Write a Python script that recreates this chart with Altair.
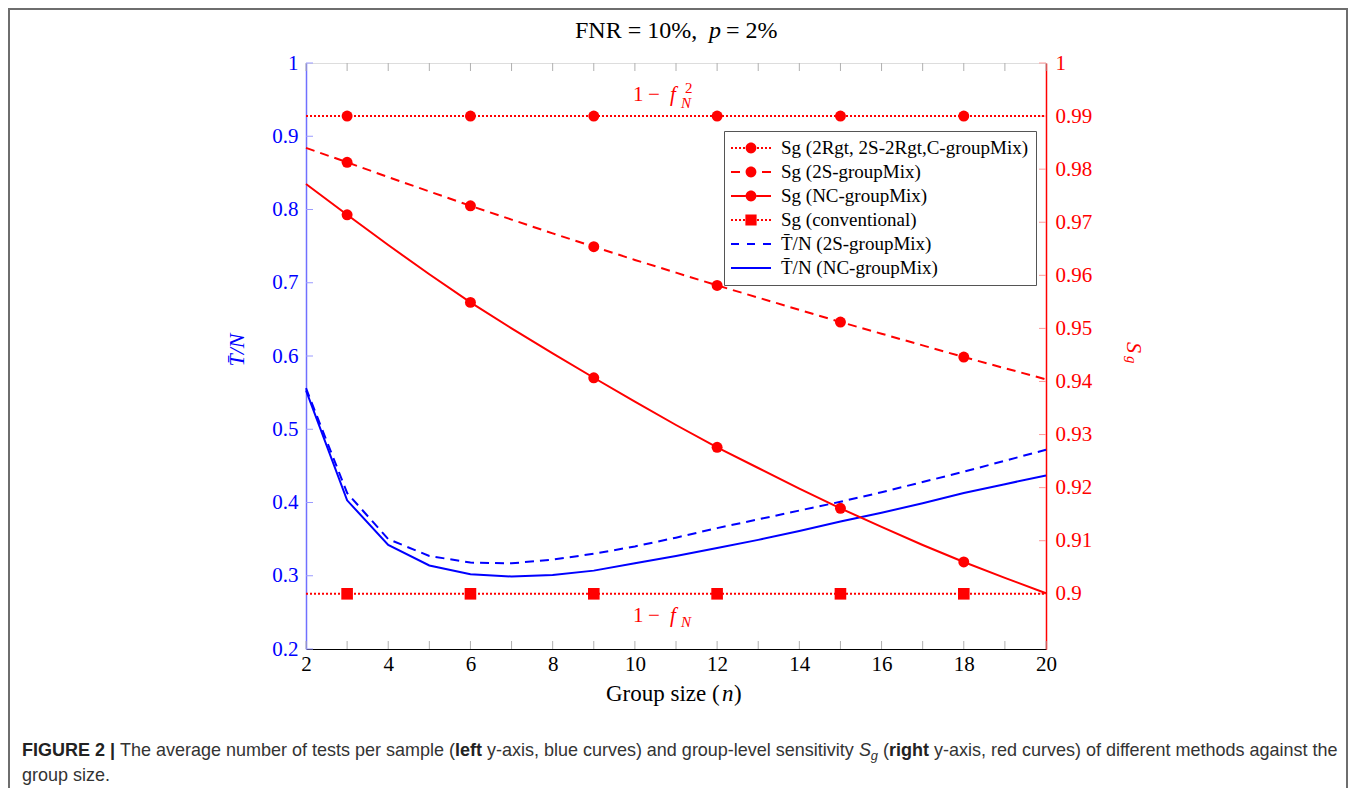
import altair as alt
import pandas as pd

# ---------------- data ----------------
group_size = list(range(2, 21))
tn_nc = [0.553, 0.403, 0.342, 0.314, 0.302, 0.299, 0.301, 0.307, 0.317, 0.327,
         0.338, 0.349, 0.361, 0.374, 0.386, 0.399, 0.413, 0.425, 0.437]
tn_2s = [0.556, 0.413, 0.350, 0.327, 0.318, 0.317, 0.322, 0.330, 0.340, 0.352,
         0.365, 0.377, 0.389, 0.401, 0.414, 0.428, 0.442, 0.457, 0.472]
sg_nc = [0.9772, 0.9714, 0.9657, 0.9602, 0.9549, 0.9500, 0.9453, 0.9407, 0.9362, 0.9318,
         0.9276, 0.9237, 0.9198, 0.9161, 0.9126, 0.9092, 0.9060, 0.9030, 0.9001]
sg_2s = [0.9840, 0.9813, 0.9785, 0.9758, 0.9731, 0.9705, 0.9679, 0.9654, 0.9629, 0.9605,
         0.9581, 0.9558, 0.9535, 0.9512, 0.9490, 0.9468, 0.9446, 0.9425, 0.9404]
sg_2rgt = [0.99] * len(group_size)
sg_conv = [0.90] * len(group_size)
marker_n = [3, 6, 9, 12, 15, 18]

x_label_values = [2, 4, 6, 8, 10, 12, 14, 16, 18, 20]
x_minor_ticks = list(range(2, 21))
left_tick_values = [0.2, 0.3, 0.4, 0.5, 0.6, 0.7, 0.8, 0.9, 1.0]
right_tick_values = [0.9, 0.91, 0.92, 0.93, 0.94, 0.95, 0.96, 0.97, 0.98, 0.99, 1.0]

series_keys = ["sg_2rgt", "sg_2s", "sg_nc", "sg_conv", "tn_2s", "tn_nc"]
series_labels = ["Sg (2Rgt, 2S-2Rgt,C-groupMix)", "Sg (2S-groupMix)", "Sg (NC-groupMix)",
                 "Sg (conventional)", "T\u0304/N (2S-groupMix)", "T\u0304/N (NC-groupMix)"]
series_values = [sg_2rgt, sg_2s, sg_nc, sg_conv, tn_2s, tn_nc]

rows = []
for key, vals in zip(series_keys, series_values):
    for n, v in zip(group_size, vals):
        rows.append({"n": n, "value": v, "series": key})
df = pd.DataFrame(rows)

# ---------------- geometry / style ----------------
W, H = 740, 586
PX0, PY0 = 306, 63          # page position of the plot area
RED = "#ff0000"
BLUE = "#0000ff"
SERIF = "Liberation Serif"
SANS = "Liberation Sans"

x_axis = alt.Axis(values=x_label_values, format="d", ticks=False, grid=False, title=None,
                  domainColor="#000000", domainWidth=1.2, labelFont=SERIF, labelFontSize=21,
                  labelColor="#000000", labelPadding=4, labelFlush=False, labelOverlap=False)
yl_axis = alt.Axis(values=left_tick_values, format=".1~f", ticks=False, grid=False, title=None,
                   orient="left", domainColor="#7070ff", domainWidth=1.5, labelFont=SERIF,
                   labelFontSize=21, labelColor=BLUE, labelPadding=8, labelOverlap=False,
                   labelFlush=False)
yr_axis = alt.Axis(values=right_tick_values, format=".2~f", ticks=False, grid=False, title=None,
                   orient="right", domainColor=RED, domainWidth=1.5, labelFont=SERIF,
                   labelFontSize=21, labelColor=RED, labelPadding=9, labelOverlap=False,
                   labelFlush=False)

xenc = alt.X("n:Q", scale=alt.Scale(domain=[2, 20], nice=False, zero=False), axis=x_axis)
yl = alt.Y("value:Q", scale=alt.Scale(domain=[0.2, 1.0], nice=False, zero=False), axis=yl_axis)
yr = alt.Y("value:Q", scale=alt.Scale(domain=[0.8896, 1.0], nice=False, zero=False), axis=yr_axis)

base = alt.Chart(df)


def line_layer(key, color, yenc, dash=None):
    kw = dict(color=color, strokeWidth=2)
    if dash is not None:
        kw["strokeDash"] = dash
    return base.transform_filter(alt.datum.series == key).mark_line(**kw).encode(x=xenc, y=yenc)


def marker_layer(key, shape, size):
    return (base.transform_filter(alt.datum.series == key)
            .transform_filter(alt.FieldOneOfPredicate(field="n", oneOf=marker_n))
            .mark_point(shape=shape, filled=True, size=size, color=RED, opacity=1, strokeWidth=0)
            .encode(x=xenc, y=yr))


def ptext(txt, px, py, size, weight="normal", style="normal", color="#333333",
          font=SANS, angle=0, align="left", baseline="alphabetic"):
    kw = dict(text=txt, font=font, fontSize=size, fontWeight=weight, fontStyle=style,
              color=color, align=align, baseline=baseline)
    if angle:
        kw["angle"] = angle
    return alt.Chart(alt.Data(values=[{}])).mark_text(**kw).encode(
        x=alt.value(px - PX0), y=alt.value(py - PY0))


def dtext(txt, n, v, size, dx, dy, style="normal"):
    return alt.Chart(alt.Data(values=[{"n": n, "value": v}])).mark_text(
        text=txt, font=SERIF, fontSize=size, fontStyle=style, color=RED,
        align="left", baseline="alphabetic", dx=dx, dy=dy).encode(x=xenc, y=yr)


# inward ticks
xt = pd.DataFrame({"n": x_minor_ticks})
bottom_ticks = alt.Chart(xt).mark_rule(color="#b0b0b0", strokeWidth=1).encode(
    x=xenc, y=alt.value(H - 8), y2=alt.value(H))
top_ticks = alt.Chart(xt).mark_rule(color="#b0b0b0", strokeWidth=1).encode(
    x=xenc, y=alt.value(0), y2=alt.value(8))
left_ticks = alt.Chart(pd.DataFrame({"value": left_tick_values})).mark_rule(
    color="#9a9aff", strokeWidth=1).encode(y=yl, x=alt.value(0), x2=alt.value(7))
right_ticks = alt.Chart(pd.DataFrame({"value": right_tick_values})).mark_rule(
    color="#ff9a9a", strokeWidth=1).encode(y=yr, x=alt.value(W - 7), x2=alt.value(W))

left_group = alt.layer(
    bottom_ticks, top_ticks, left_ticks,
    line_layer("tn_2s", BLUE, yl, dash=[9, 6]),
    line_layer("tn_nc", BLUE, yl),
)

# legend glyphs (custom symbol paths, 1 unit = 10 px, glyph spans x in [-2, 2])
h = 0.1


def bar(x0, x1, hh=h):
    return f"M{x0},{-hh}H{x1}V{hh}H{x0}Z"


def circ(r=0.54):
    return f"M{-r},0A{r},{r} 0 1,1 {r},0A{r},{r} 0 1,1 {-r},0Z"


def sq(s=0.56):
    return f"M{-s},{-s}H{s}V{s}H{-s}Z"


dots = "".join(bar(x, round(x + 0.2, 2)) for x in [-2.0, -1.6, -1.2, -0.8, 0.6, 1.0, 1.4, 1.8])
glyphs = [
    dots + circ(),
    bar(-2.0, -1.1) + bar(1.1, 2.0) + circ(),
    bar(-2.0, -0.54) + bar(0.54, 2.0) + circ(),
    dots + sq(),
    bar(-2.0, -1.2) + bar(-0.4, 0.4) + bar(1.2, 2.0),
    bar(-2.0, 2.0),
]
legend_colors = [RED, RED, RED, RED, BLUE, BLUE]

leg = alt.Legend(title=None, orient="none", legendX=418, legendY=68, direction="vertical",
                 symbolSize=400, symbolStrokeWidth=0, symbolOpacity=1, symbolOffset=10,
                 labelFont=SERIF, labelFontSize=19, labelColor="#000000", labelOffset=20,
                 rowPadding=4, padding=7, strokeColor="#555555", fillColor="#ffffff",
                 labelLimit=500)

legend_layer = (alt.Chart(pd.DataFrame({"n": [2], "value": [0.95], "label": [series_labels[0]]}))
                .transform_filter("false")
                .mark_point(filled=True, opacity=1, size=400)
                .encode(x=xenc, y=yr,
                        color=alt.Color("label:N", scale=alt.Scale(domain=series_labels, range=legend_colors), legend=leg),
                        shape=alt.Shape("label:N", scale=alt.Scale(domain=series_labels, range=glyphs), legend=leg)))

# annotation positions (anchor at n = 11)
up_v, lo_v = 0.99284, 0.89473
ann = [
    dtext("1", 11, up_v, 21, -43, 0), dtext("\u2212", 11, up_v, 21, -28, 0),
    dtext("f", 11, up_v, 21, -6, 0, "italic"), dtext("2", 11, up_v, 15, 9, -8),
    dtext("N", 11, up_v, 15, 5, 7, "italic"),
    dtext("1", 11, lo_v, 21, -43, 0), dtext("\u2212", 11, lo_v, 21, -28, 0),
    dtext("f", 11, lo_v, 21, -6, 0, "italic"), dtext("N", 11, lo_v, 15, 5, 5, "italic"),
]

right_group = alt.layer(
    right_ticks,
    line_layer("sg_2rgt", RED, yr, dash=[2, 2]),
    line_layer("sg_conv", RED, yr, dash=[2, 2]),
    line_layer("sg_2s", RED, yr, dash=[9, 6]),
    line_layer("sg_nc", RED, yr),
    marker_layer("sg_2rgt", "circle", 120),
    marker_layer("sg_2s", "circle", 120),
    marker_layer("sg_nc", "circle", 120),
    marker_layer("sg_conv", "square", 135),
    legend_layer,
    *ann,
)

# ---------------- titles & caption ----------------
frame = alt.Chart(alt.Data(values=[{}])).mark_rect(
    fill=None, fillOpacity=0, stroke="#6e6e6e", strokeWidth=2).encode(
    x=alt.value(9 - PX0), x2=alt.value(1347 - PX0), y=alt.value(9 - PY0), y2=alt.value(900 - PY0))

titles = [
    ptext("FNR = 10%,", 575, 38, 24, color="#000000", font=SERIF),
    ptext("p", 709, 38, 24, style="italic", color="#000000", font=SERIF),
    ptext("= 2%", 726, 38, 24, color="#000000", font=SERIF),
    ptext("Group size (", 606, 701, 23, color="#000000", font=SERIF),
    ptext("n", 722, 701, 23, style="italic", color="#000000", font=SERIF),
    ptext(")", 734, 701, 23, color="#000000", font=SERIF),
    ptext("T\u0304/N", 244, 350, 22, style="italic", color=BLUE, font=SERIF, angle=270,
          align="center"),
    ptext("S", 1127, 342, 22, style="italic", color=RED, font=SERIF, angle=90),
    ptext("g", 1127, 356, 15, style="italic", color=RED, font=SERIF, angle=90),
]

# caption: compute left edges from Arial-compatible widths
REG = {" ": 278, "(": 333, ")": 333, ",": 278, "-": 333, ".": 278, "|": 260, "2": 556,
       "a": 556, "b": 556, "c": 500, "d": 556, "e": 556, "f": 278, "g": 556, "h": 556,
       "i": 222, "j": 222, "k": 500, "l": 222, "m": 833, "n": 556, "o": 556, "p": 556,
       "q": 556, "r": 333, "s": 500, "t": 278, "u": 556, "v": 500, "w": 722, "x": 500,
       "y": 500, "z": 500, "S": 667, "T": 611}
BOLD = {" ": 278, "|": 280, "2": 556, "F": 611, "I": 278, "G": 778, "U": 722, "R": 722,
        "E": 667, "l": 278, "e": 556, "f": 333, "t": 333, "r": 389, "i": 278, "g": 611,
        "h": 611}

cap1 = [("FIGURE 2 | ", "bold", 1.0, 0),
        ("The average number of tests per sample (", "normal", 1.0, 0),
        ("left", "bold", 1.0, 0),
        (" y-axis, blue curves) and group-level sensitivity ", "normal", 1.0, 0),
        ("S", "italic", 1.0, 0),
        ("g", "italic", 0.72, 4),
        (" (", "normal", 1.0, 0),
        ("right", "bold", 1.0, 0),
        (" y-axis, red curves) of different methods against the", "normal", 1.0, 0)]


def em(s, weight):
    table = BOLD if weight == "bold" else REG
    return sum(table.get(c, 556) for c in s) / 1000.0


total_em = sum(em(s, w) * sc for s, w, sc, _ in cap1)
cap_fs = (1338 - 22) / total_em
caption = []
xpos = 22.0
for s, w, sc, dy in cap1:
    txt = s.strip()
    lead = len(s) - len(s.lstrip())
    x0 = xpos + em(s[:lead], w) * cap_fs * sc
    weight = "bold" if w == "bold" else "normal"
    style = "italic" if w == "italic" else "normal"
    caption.append(ptext(txt, x0, 756 + dy, round(cap_fs * sc, 2), weight=weight, style=style,
                         color="#333333" if w != "bold" else "#222222"))
    xpos += em(s, w) * cap_fs * sc
caption.append(ptext("group size.", 22, 781, round(cap_fs, 2)))

chart = alt.layer(
    left_group, right_group, frame, *titles, *caption
).resolve_scale(y="independent").properties(
    width=W, height=H,
    autosize=alt.AutoSizeParams(type="none"),
    padding={"left": PX0 - 8, "top": PY0 - 8, "right": 1340 - (PX0 - 8) - W,
             "bottom": 780 - (PY0 - 8) - H},
    background="#ffffff",
).configure_view(stroke="#444444", strokeWidth=1.2).configure(font=SERIF)

chart.save("out.html", embed_options={"renderer": "svg", "actions": False})
